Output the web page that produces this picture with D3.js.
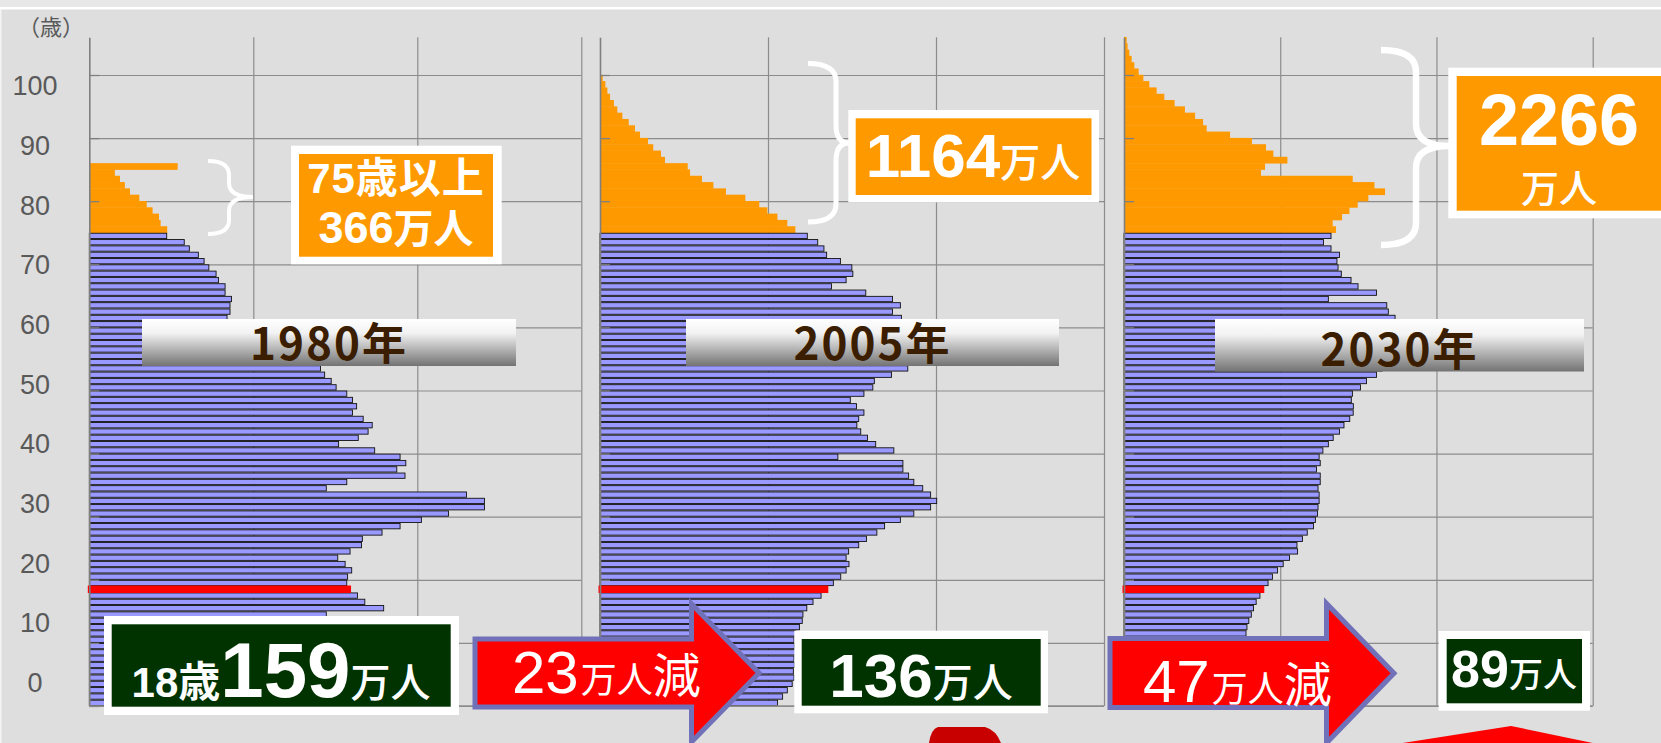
<!DOCTYPE html>
<html>
<head>
<meta charset="utf-8">
<script src="https://cdn.jsdelivr.net/npm/d3@7"></script>
<style>
  html, body { margin: 0; padding: 0; background: #dedede; }
  svg { display: block; }
</style>
</head>
<body>
<div id="chart"></div>
<script>
// population by single year of age (万人), index = age
var pop1980 = [158, 164, 171, 176, 183, 190, 200, 207, 204, 200, 193, 189, 187, 191,
  144.5, 179.5, 168, 163.5, 159.6, 157, 157.5, 160, 156, 151.5, 159, 166, 166.5, 178.5, 189.5, 202.5,
  219, 241, 241, 230, 144.5, 157, 192.5, 187.5, 193, 189.5, 174, 152, 164, 170, 172.5, 167, 160.5, 163, 160.5, 157,
  150.5, 147.5, 143.5, 141, 137, 128, 112, 104, 98, 92, 88, 84, 85.8, 85.8, 86.7, 82.8, 82.8, 78.8, 77.3, 72.9,
  70, 66.5, 61, 57.9, 47.2,
  47.5, 43.5, 42.5, 38.6, 35, 30.5, 24.8, 21.7, 18.7, 15.6, 53.9]
var pop2005 = [105.7, 108.7, 111.5, 114.4, 115.5, 115.1, 115.7, 115.5, 116.3, 115.7,
  115.5, 116.6, 118.7, 120.4, 120.8, 123.1, 126.8, 131.6, 135.9, 138.9,
  143.3, 146.5, 148.2, 146.5, 148, 154, 158.6, 164.8, 169.4, 178.8,
  186.8, 196.8, 200.4, 196.8, 192.1, 186.8, 183.7, 180.3, 180.3, 141.6,
  174.9, 164.1, 159.2, 155.2, 152.9, 154, 157.1, 152.7, 149, 157.1,
  162.4, 163.3, 173.5, 183.2, 190, 205, 222, 228, 220, 165,
  158, 179.4, 174.1, 178.8, 174.1, 158.2, 137.8, 146.5, 150.5, 149.9,
  143.1, 134.9, 133.3, 129.6, 123.4,
  116.3, 111.5, 105.6, 99.6, 94.8, 86.5, 75, 67.5, 60.7, 53.6, 52.2, 38.7, 36.3, 31.7, 28.6,
  23.8, 20.8, 17.1, 13.3, 10.3, 8.3, 6, 4.4, 3.2, 1.6]
var pop2030 = [67, 68, 69, 70, 71, 72, 73, 74, 75, 76,
  76.5, 78.1, 78.7, 79.9, 81.5, 82.9, 84.6, 87, 89.8, 92.2,
  95, 98.3, 101.9, 105.9, 111.1, 110.7, 114.2, 117.3, 121.3, 122.5,
  123.9, 124.2, 124.9, 124.9, 124.2, 125.6, 125.6, 123.2, 125.6, 124.9,
  127.3, 130.8, 133.9, 137.9, 140.8, 144.5, 146.7, 146.8, 145.5, 146.2,
  151.4, 155.2, 161.6, 165.2, 170, 178, 186, 192, 196, 190,
  182, 173.5, 169.2, 168.2, 130.8, 161.6, 149.8, 145.3, 139.1, 137,
  136.3, 137.9, 132.5, 127.7, 132.5,
  135.7, 133.6, 139.6, 144.3, 149.6, 156.4, 167.1, 160.3, 146.4, 87.7, 90.3, 104.6, 95.6, 90.9, 81.9,
  67.9, 52.9, 50.6, 45.5, 39, 32.4, 25.8, 20.9, 16.2, 12.4, 9.4, 6.6, 4.9, 3.4, 2.3, 1.7]

var years = ['1980年', '2005年', '2030年']
var elderlyLabels = [['75歳以上', '366', '万人'], ['1164', '万人'], ['2266', '万人']]
var age18Labels = [['18歳', '159', '万人'], ['136', '万人'], ['89', '万人']]
var changeLabels = [['23', '万人', '減'], ['47', '万人', '減']]
var yTicks = [0, 10, 20, 30, 40, 50, 60, 70, 80, 90, 100]
var xTicks = [100, 200, 300]
var oldAge = 75
var markAge = 18

var W = 1661, H = 743
var plotTop = 37.14, plotBottom = 706

var svg = d3.select('#chart').append('svg')
  .attr('width', W).attr('height', H)
  .style('font-family', '"Liberation Sans", "Noto Sans CJK JP", sans-serif')

var defs = svg.append('defs')
var grad = defs.append('linearGradient').attr('id', 'yearGrad')
  .attr('x1', 0).attr('y1', 0).attr('x2', 0).attr('y2', 1)
grad.append('stop').attr('offset', '0%').attr('stop-color', '#ffffff')
grad.append('stop').attr('offset', '30%').attr('stop-color', '#f2f2f2')
grad.append('stop').attr('offset', '100%').attr('stop-color', '#737373')

// background
svg.append('rect').attr('width', W).attr('height', H).attr('fill', '#dedede')
svg.append('rect').attr('width', W).attr('height', 7).attr('fill', '#e7e7e7')
svg.append('rect').attr('y', 7).attr('width', W).attr('height', 2.5).attr('fill', '#ffffff')
svg.append('rect').attr('x', 0).attr('y', 9).attr('width', 1.5).attr('height', H).attr('fill', '#f4f4f4')

// age scale shared by all three pyramids
var yAge = d3.scaleLinear().domain([0, 106]).range([plotBottom, plotTop])
var step = yAge(0) - yAge(1)
var yLabel = d3.scaleLinear().domain([0, 100]).range([683, 86])

// y axis labels
svg.append('g')
  .attr('transform', 'translate(35,0)')
  .call(d3.axisLeft(yLabel).tickValues(yTicks).tickSize(0).tickPadding(0))
  .call(function (g) { g.select('.domain').remove() })
  .selectAll('text')
  .attr('x', 0)
  .attr('text-anchor', 'middle')
  .attr('fill', '#595959')
  .style('font-size', '27px')
  .style('font-family', '"Liberation Sans", sans-serif')

svg.append('text').attr('x', 51).attr('y', 35).attr('text-anchor', 'middle')
  .attr('fill', '#595959').style('font-size', '22px')
  .style('font-family', '"Noto Sans CJK JP", sans-serif')
  .text('（歳）')

var panels = [
  { data: pop1980, x0: 89.3, x1: 581.3, box: [142, 319, 516, 366] },
  { data: pop2005, x0: 600, x1: 1104, box: [686, 319, 1059, 366] },
  { data: pop2030, x0: 1124, x1: 1592.7, box: [1215, 319, 1584, 371.5] }
]

panels.forEach(function (p, i) {
  var x = d3.scaleLinear().domain([0, 300]).range([p.x0, p.x1])
  var g = svg.append('g')

  // vertical gridlines
  g.append('g')
    .attr('transform', 'translate(0,' + plotBottom + ')')
    .call(d3.axisBottom(x).tickValues(xTicks).tickSize(-(plotBottom - plotTop)).tickFormat(''))
    .call(function (a) { a.select('.domain').remove() })
    .selectAll('line').attr('stroke', '#8c8c8c').attr('stroke-width', 1.2)

  // horizontal gridlines
  g.append('g')
    .attr('transform', 'translate(' + p.x0 + ',0)')
    .call(d3.axisLeft(yAge).tickValues(yTicks).tickSize(-(p.x1 - p.x0)).tickFormat(''))
    .call(function (a) { a.select('.domain').remove() })
    .selectAll('line').attr('stroke', '#8c8c8c').attr('stroke-width', 1.2)

  var rows = p.data.map(function (v, a) { return { age: a, value: v } })

  // 75+ (orange, no outline)
  g.selectAll('rect.old').data(rows.filter(function (d) { return d.age >= oldAge }))
    .enter().append('rect').attr('class', 'old')
    .attr('x', p.x0)
    .attr('y', function (d) { return yAge(d.age + 1) - 0.2 })
    .attr('width', function (d) { return x(d.value) - p.x0 })
    .attr('height', step + 0.4)
    .attr('fill', '#ff9900')

  // under 75 (blue with black outline)
  g.selectAll('rect.young').data(rows.filter(function (d) { return d.age < oldAge && d.age !== markAge }))
    .enter().append('rect').attr('class', 'young')
    .attr('x', p.x0)
    .attr('y', function (d) { return yAge(d.age + 1) + 0.5 })
    .attr('width', function (d) { return x(d.value) - p.x0 })
    .attr('height', step - 1)
    .attr('fill', '#9999ff')
    .attr('stroke', '#111')
    .attr('stroke-width', 0.9)

  // age 18 highlighted
  var m = rows[markAge]
  g.append('rect')
    .attr('x', p.x0 - 1.5)
    .attr('y', yAge(m.age + 1) - 0.6)
    .attr('width', x(m.value) - p.x0 + 1.5)
    .attr('height', step + 1.2)
    .attr('fill', '#ff0000')

  // value axis line with inside ticks
  g.append('g')
    .attr('transform', 'translate(' + p.x0 + ',0)')
    .call(d3.axisRight(yAge).tickValues(yTicks).tickSize(10).tickSizeOuter(0).tickFormat(''))
    .call(function (a) {
      a.select('.domain').attr('stroke', '#7f7f7f').attr('stroke-width', 1.6)
      a.selectAll('line').attr('stroke', '#7f7f7f').attr('stroke-width', 1.3)
    })
  // bottom axis line
  g.append('line').attr('x1', p.x0).attr('x2', p.x1)
    .attr('y1', plotBottom).attr('y2', plotBottom)
    .attr('stroke', '#8c8c8c').attr('stroke-width', 1.4)

  // year label box
  var b = p.box
  g.append('rect').attr('x', b[0]).attr('y', b[1]).attr('width', b[2] - b[0]).attr('height', b[3] - b[1])
    .attr('fill', 'url(#yearGrad)')
  g.append('text')
    .attr('x', (b[0] + b[2]) / 2).attr('y', b[3] - 6)
    .attr('text-anchor', 'middle')
    .attr('fill', '#3b1d00')
    .style('font-family', '"Noto Sans CJK JP", sans-serif')
    .style('font-weight', 'bold')
    .style('font-size', '44px')
    .style('letter-spacing', '2px')
    .text(years[i])
})

// braces pointing at the 75+ totals
function brace (x0, xm, xt, yt, ym, yb, r) {
  return 'M' + x0 + ',' + yt +
    'Q' + xm + ',' + yt + ' ' + xm + ',' + (yt + r) +
    'L' + xm + ',' + (ym - r) +
    'Q' + xm + ',' + ym + ' ' + xt + ',' + ym +
    'Q' + xm + ',' + ym + ' ' + xm + ',' + (ym + r) +
    'L' + xm + ',' + (yb - r) +
    'Q' + xm + ',' + yb + ' ' + x0 + ',' + yb
}
var braces = [
  [208, 229, 253, 161, 197, 234, 14, 4],
  [808, 836, 849, 63.5, 143, 222, 18, 5],
  [1381, 1416, 1449, 50, 146, 245, 22, 6.5]
]
braces.forEach(function (c) {
  svg.append('path').attr('d', brace(c[0], c[1], c[2], c[3], c[4], c[5], c[6]))
    .attr('fill', 'none').attr('stroke', '#ffffff').attr('stroke-width', c[7])
})

// boxes: white frame + coloured face
function box (outer, inner, fill) {
  svg.append('rect').attr('x', outer[0]).attr('y', outer[1])
    .attr('width', outer[2] - outer[0]).attr('height', outer[3] - outer[1]).attr('fill', '#ffffff')
  svg.append('rect').attr('x', inner[0]).attr('y', inner[1])
    .attr('width', inner[2] - inner[0]).attr('height', inner[3] - inner[1]).attr('fill', fill)
}
function label (cx, y, parts) {
  var t = svg.append('text').attr('x', cx).attr('y', y).attr('text-anchor', 'middle').attr('fill', '#ffffff')
  parts.forEach(function (p) {
    t.append('tspan').text(p[0])
      .style('font-size', p[1] + 'px')
      .style('font-weight', p[2])
      .style('font-family', p[3] || '"Liberation Sans", "Noto Sans CJK JP", sans-serif')
  })
  return t
}
var cjk = '"Noto Sans CJK JP", sans-serif'

// 75+ boxes
box([291, 145.7, 501.7, 264.3], [299, 154, 493, 256.7], '#ff9900')
label(396, 192.5, [[elderlyLabels[0][0], 42, 'bold']]).style('letter-spacing', '1px')
label(396, 243, [[elderlyLabels[0][1], 45, 'bold'], [elderlyLabels[0][2], 40, 'bold', cjk]])

box([848.3, 110, 1099, 202.3], [855.7, 118.3, 1091.5, 195], '#ff9900')
label(973, 176.5, [[elderlyLabels[1][0], 62, 'bold'], [elderlyLabels[1][1], 40, 500, cjk]])

box([1448.3, 67.7, 1680, 218.3], [1456.7, 76, 1680, 210.7], '#ff9900')
label(1559, 145, [[elderlyLabels[2][0], 72, 'bold']])
label(1559, 202, [[elderlyLabels[2][1], 38, 500, cjk]])

// 18-year-old boxes
box([104, 616, 459, 715], [111.7, 624.3, 450.7, 706.7], '#003300')
label(281, 696.5, [[age18Labels[0][0], 42, 'bold'], [age18Labels[0][1], 78, 'bold'], [age18Labels[0][2], 40, 500, cjk]])

box([794.3, 630.7, 1048, 713.3], [801.7, 639, 1040.7, 705.7], '#003300')
label(921, 696.5, [[age18Labels[1][0], 62, 'bold'], [age18Labels[1][1], 40, 500, cjk]])

box([1438.7, 631, 1590, 710.7], [1446.7, 639, 1582, 703.3], '#003300')
label(1514, 687, [[age18Labels[2][0], 52, 'bold'], [age18Labels[2][1], 34, 500, cjk]])

// decrease arrows
function arrow (L, bt, bb, N, ht, hb, T, cy) {
  return [[L, bt], [N, bt], [N, ht], [T, cy], [N, hb], [N, bb], [L, bb]]
}
var arrows = [
  arrow(475, 639, 707, 691.5, 604, 742, 759, 673),
  arrow(1110, 638.5, 707.5, 1326.5, 603.5, 743, 1394, 673.3)
]
var arrowText = [[512, 692.5], [1143, 701.5]]
arrows.forEach(function (pts, i) {
  svg.append('path').attr('d', d3.line()(pts) + 'Z')
    .attr('fill', '#ff0000').attr('stroke', '#7171b9').attr('stroke-width', 5)
    .attr('stroke-linejoin', 'miter')
  var c = changeLabels[i]
  svg.append('text').attr('x', arrowText[i][0]).attr('y', arrowText[i][1]).attr('fill', '#ffffff')
    .call(function (t) {
      t.append('tspan').text(c[0]).style('font-size', '60px').style('font-family', '"Liberation Sans", sans-serif')
      t.append('tspan').text(c[1]).style('font-size', '36px').style('font-family', cjk).attr('dx', 2)
      t.append('tspan').text(c[2]).style('font-size', '48px').style('font-family', cjk)
    })
})

// shapes cut off at the bottom edge
svg.append('path').attr('d', 'M929,743Q931,729 938,727L985,727Q996,730 1001,743Z').attr('fill', '#c80000')
svg.append('path').attr('d', d3.line()([[1402.7, 743], [1511, 726], [1592.7, 743]]) + 'Z').attr('fill', '#ff0000')
</script>
</body>
</html>
